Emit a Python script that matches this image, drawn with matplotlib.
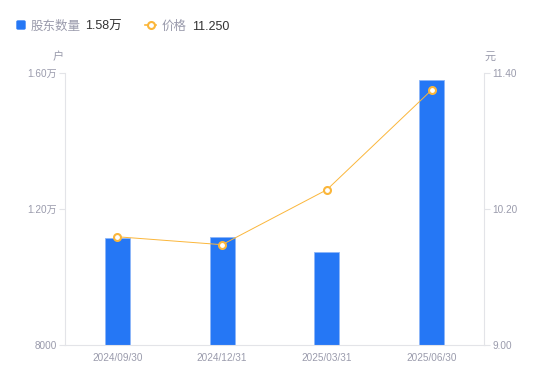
import matplotlib
matplotlib.use("Agg")
import matplotlib.pyplot as plt
from matplotlib.lines import Line2D

plt.rcParams['font.family'] = ['Liberation Sans', 'Noto Sans CJK SC', 'DejaVu Sans']

categories = ["2024/09/30", "2024/12/31", "2025/03/31", "2025/06/30"]
holders = [11140, 11170, 10740, 15800]
prices = [9.955, 9.885, 10.37, 11.25]
left_ticks = [8000, 12000, 16000]
left_labels = ["8000", "1.20万", "1.60万"]
right_ticks = [9.00, 10.20, 11.40]
right_labels = ["9.00", "10.20", "11.40"]

BLUE = "#2577F5"
ORANGE = "#FBB63A"
GRAY = "#9A9BAC"
SPINE = "#E3E4E8"

fig = plt.figure(figsize=(5.5, 3.81), dpi=100)
ax = fig.add_axes([65/550, 36/381, 419/550, 272/381])
x = list(range(len(categories)))
ax.bar(x, [h - 8000 for h in holders], bottom=8000, width=0.24, color=BLUE,
       edgecolor="#8DB6F8", linewidth=0.6, zorder=2)
ax.set_xlim(-0.5, 3.5)
ax.set_ylim(8000, 16000)
ax.set_yticks(left_ticks)
ax.set_yticklabels(left_labels)
ax.set_xticks(x)
ax.set_xticklabels(categories)

ax2 = ax.twinx()
ax2.plot(x, prices, color=ORANGE, linewidth=0.7, marker='o', markersize=5,
         markerfacecolor='white', markeredgecolor=ORANGE, markeredgewidth=1.5, zorder=3)
ax2.set_ylim(9.0, 11.4)
ax2.set_yticks(right_ticks)
ax2.set_yticklabels(right_labels)

for a in (ax, ax2):
    for s in a.spines.values():
        s.set_visible(False)
    a.tick_params(colors=SPINE, labelcolor=GRAY, labelsize=7.2, length=4, width=0.8)
ax.tick_params(axis='x', length=0, pad=6)
ax.spines['left'].set_visible(True)
ax.spines['left'].set_color(SPINE)
ax.spines['bottom'].set_visible(True)
ax.spines['bottom'].set_color(SPINE)
ax2.spines['right'].set_visible(True)
ax2.spines['right'].set_color(SPINE)
ax.tick_params(axis='y', pad=2)
ax2.tick_params(axis='y', pad=2)

fig.text(58/550, 1 - 57/381, "户", color=GRAY, fontsize=8, ha='center', va='center')
fig.text(490/550, 1 - 57/381, "元", color=GRAY, fontsize=8, ha='center', va='center')

# legend
ly = 1 - 25/381
fig.patches.append(matplotlib.patches.FancyBboxPatch((17/550, 1 - 29/381), 8/550, 8/381,
                   boxstyle="round,pad=0,rounding_size=0.002", transform=fig.transFigure,
                   color=BLUE, figure=fig))
ty = 1 - 26.5/381
fig.text(31/550, ty, "股东数量", color=GRAY, fontsize=9, va='center')
fig.text(85/550, ty, "1.58万", color="#333333", fontsize=9, va='center')
fig.lines.append(Line2D([145/550, 156/550], [ly, ly], transform=fig.transFigure,
                        color=ORANGE, linewidth=1.2, figure=fig))
fig.lines.append(Line2D([150.5/550], [ly], transform=fig.transFigure, color=ORANGE,
                        marker='o', markersize=5, markerfacecolor='white',
                        markeredgewidth=1.5, linestyle='none', figure=fig))
fig.text(162/550, ty, "价格", color=GRAY, fontsize=9, va='center')
fig.text(192/550, ty, "11.250", color="#333333", fontsize=9, va='center')

fig.savefig("out.png", dpi=100)
